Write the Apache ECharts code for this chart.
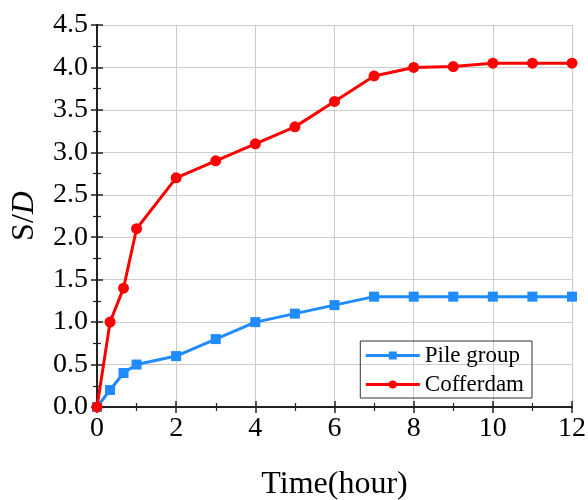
<!DOCTYPE html>
<html><head><meta charset="utf-8">
<script src="https://cdn.jsdelivr.net/npm/echarts@6/dist/echarts.min.js"></script>
<style>html,body{margin:0;padding:0;background:#fff}#c{width:588px;height:500px}</style>
</head><body><div id="c"></div>
<script>
const times = [0, 0.33, 0.67, 1, 2, 3, 4, 5, 6, 7, 8, 9, 10, 11, 12];
const pileGroup = [0, 0.2, 0.4, 0.5, 0.6, 0.8, 1.0, 1.1, 1.2, 1.3, 1.3, 1.3, 1.3, 1.3, 1.3];
const cofferdam = [0, 1.0, 1.4, 2.1, 2.7, 2.9, 3.1, 3.3, 3.6, 3.9, 4.0, 4.01, 4.05, 4.05, 4.05];
const seriesNames = ['Pile group', 'Cofferdam'];
const xTitle = 'Time(hour)';

const font = 'Liberation Serif';
const chart = echarts.init(document.getElementById('c'));
const pair = (xs, ys) => xs.map((x, i) => [x, ys[i]]);
const axisLine = {show: true, lineStyle: {color: '#222', width: 2}};
const tick = {show: true, inside: true, length: 6, lineStyle: {color: '#222', width: 1.5}};
const minorTick = {show: true, length: 4, lineStyle: {color: '#222', width: 1.2}};
chart.setOption({
  animation: false,
  grid: {left: 97, right: 16, top: 25, bottom: 93, containLabel: false, outerBoundsMode: 'none'},
  legend: {
    orient: 'vertical', right: 56, bottom: 102,
    data: seriesNames,
    borderColor: '#333', borderWidth: 1, padding: [3, 8, 2, 4],
    itemWidth: 54, itemHeight: 10, itemGap: 6,
    lineStyle: {width: 3},
    textStyle: {fontFamily: font, fontSize: 23, color: '#000'}
  },
  xAxis: [{
    type: 'value', min: 0, max: 12, interval: 2,
    name: xTitle, nameLocation: 'middle', nameGap: 62,
    nameTextStyle: {fontFamily: font, fontSize: 32, color: '#000'},
    axisLine, axisTick: tick, minorTick: Object.assign({splitNumber: 2}, minorTick),
    axisLabel: {fontFamily: font, fontSize: 28, color: '#000', margin: 8},
    splitLine: {show: true, lineStyle: {color: '#ccc', width: 1}}
  }, {
    type: 'value', min: 0, max: 12, interval: 2, position: 'top',
    axisLine, axisTick: tick, minorTick: Object.assign({splitNumber: 2}, minorTick),
    axisLabel: {show: false}, splitLine: {show: false}
  }],
  yAxis: [{
    type: 'value', min: 0, max: 4.5, interval: 0.5,
    name: '{n|S/}{i|D}', nameLocation: 'middle', nameGap: 56,
    nameTextStyle: {fontFamily: font, fontSize: 32, color: '#000',
      rich: {n: {fontFamily: font, fontSize: 32}, i: {fontFamily: font, fontSize: 32, fontStyle: 'italic'}}},
    axisLine, axisTick: tick, minorTick: Object.assign({splitNumber: 2}, minorTick),
    axisLabel: {fontFamily: font, fontSize: 28, color: '#000', margin: 9, formatter: v => v.toFixed(1)},
    splitLine: {show: true, lineStyle: {color: '#ccc', width: 1}}
  }, {
    type: 'value', min: 0, max: 4.5, interval: 0.5, position: 'right',
    axisLine, axisTick: tick, minorTick: Object.assign({splitNumber: 2}, minorTick),
    axisLabel: {show: false}, splitLine: {show: false}
  }],
  series: [{
    name: seriesNames[0], type: 'line', data: pair(times, pileGroup),
    symbol: 'rect', symbolSize: 10, z: 3,
    lineStyle: {color: '#1f8bff', width: 3}, itemStyle: {color: '#1f8bff'}
  }, {
    name: seriesNames[1], type: 'line', data: pair(times, cofferdam),
    symbol: 'circle', symbolSize: 11, z: 3,
    lineStyle: {color: '#ff0000', width: 3}, itemStyle: {color: '#ff0000'}
  }]
});
</script></body></html>
